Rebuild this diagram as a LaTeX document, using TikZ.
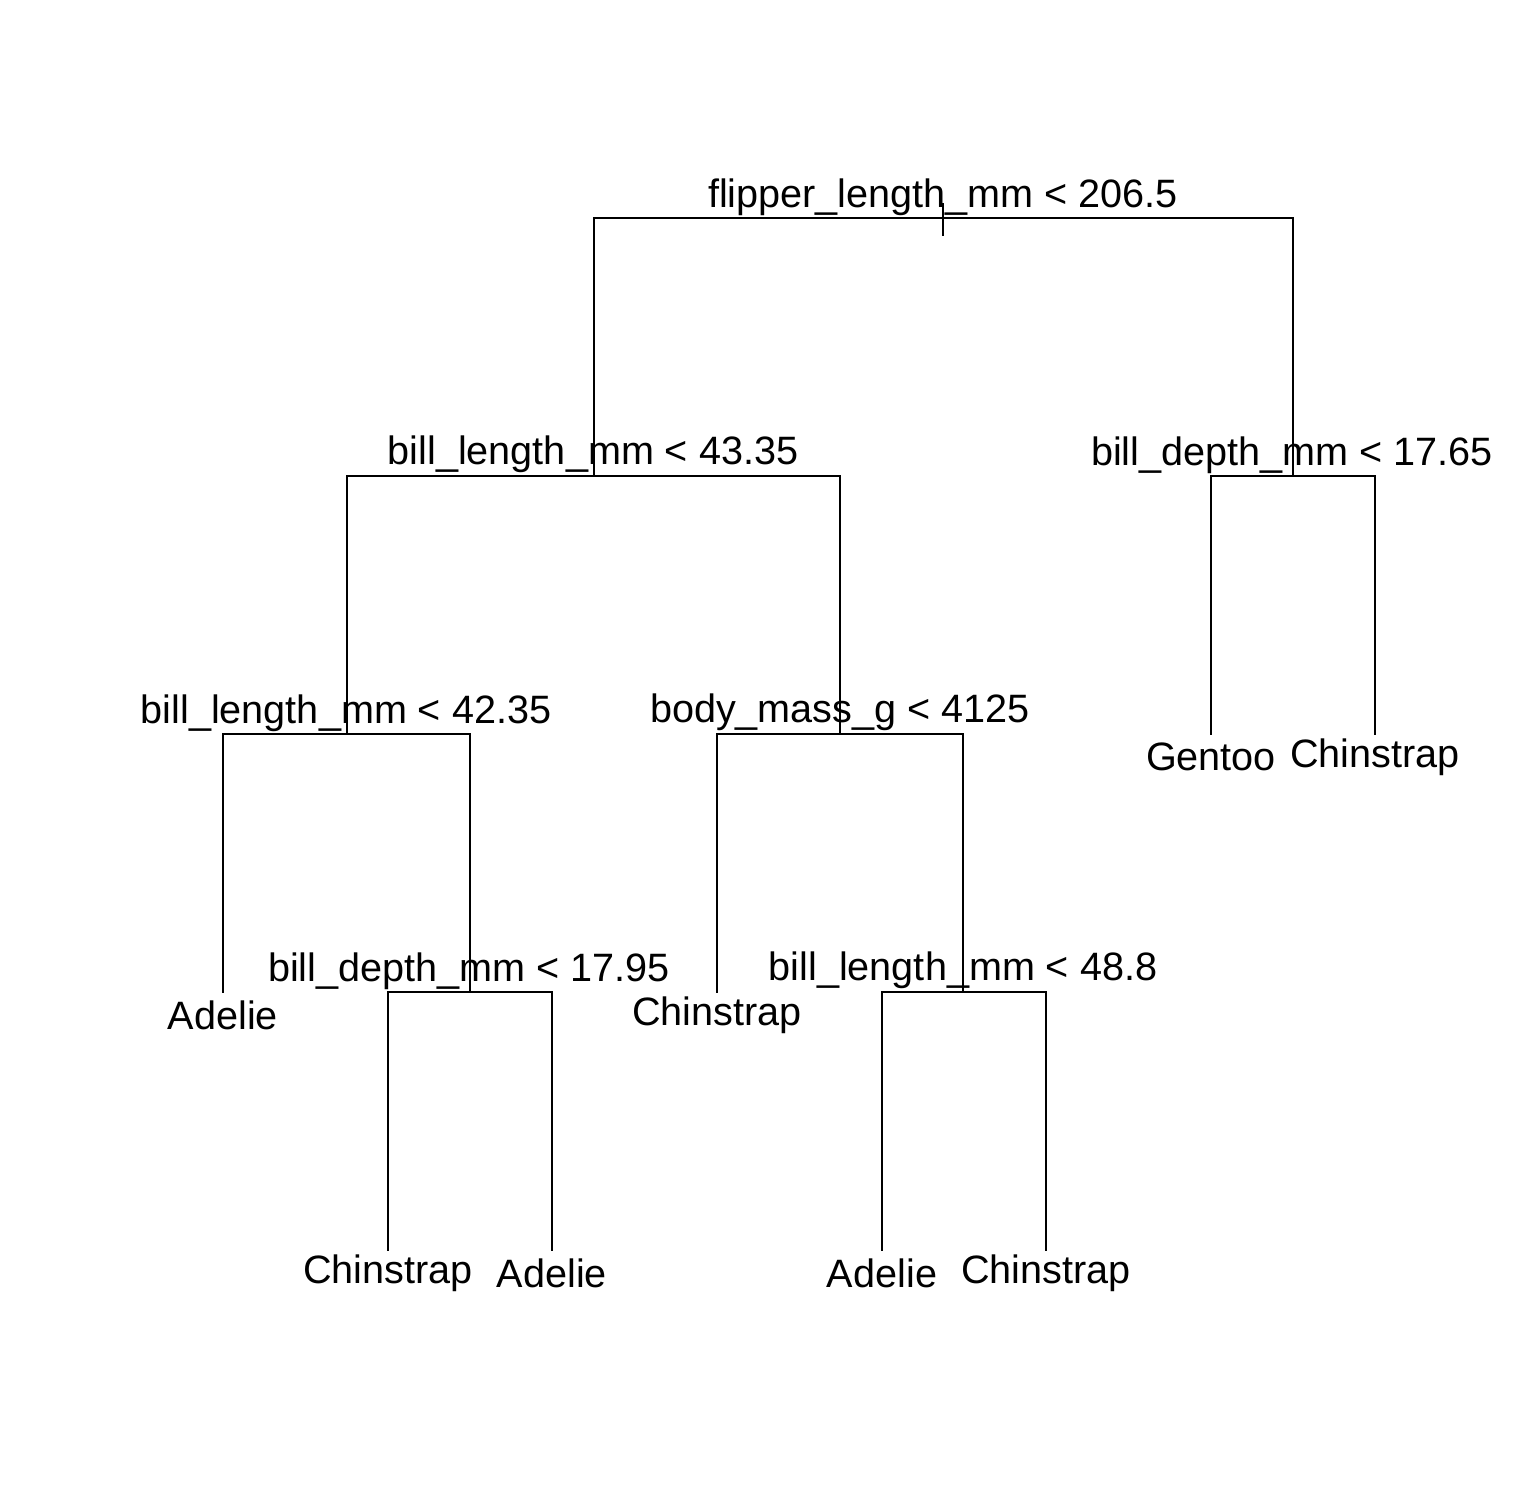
\documentclass[tikz,border=0pt]{standalone}
\usepackage{fontspec}
\setmainfont{Liberation Sans}
\begin{document}
\begin{tikzpicture}[x=1pt,y=-1pt,
  edge/.style={draw=black,line width=2pt,line cap=rect},
  split/.style={font=\fontsize{39.6}{47}\selectfont,anchor=base,inner sep=0pt},
  leaf/.style={font=\fontsize{39.6}{47}\selectfont,anchor=center,inner sep=0pt}]
\useasboundingbox[fill=white] (0,0) rectangle (1512,1512);
% tree node positions
\coordinate (n1) at (943,218);
\coordinate (n2) at (594,476);
\coordinate (n3) at (1293,476);
\coordinate (n4) at (347,734);
\coordinate (n5) at (840,734);
\coordinate (n6) at (1211,734);
\coordinate (n7) at (1375,734);
\coordinate (n8) at (223,992);
\coordinate (n9) at (470,992);
\coordinate (n10) at (717,992);
\coordinate (n11) at (963,992);
\coordinate (n12) at (388,1250);
\coordinate (n13) at (552,1250);
\coordinate (n14) at (882,1250);
\coordinate (n15) at (1046,1250);
\coordinate (rt) at (943,204);
\coordinate (rb) at (943,235);
% branches
\draw[edge] (rt) -- (rb);
\draw[edge] (n2) |- (n1);
\draw[edge] (n3) |- (n1);
\draw[edge] (n4) |- (n2);
\draw[edge] (n5) |- (n2);
\draw[edge] (n6) |- (n3);
\draw[edge] (n7) |- (n3);
\draw[edge] (n8) |- (n4);
\draw[edge] (n9) |- (n4);
\draw[edge] (n10) |- (n5);
\draw[edge] (n11) |- (n5);
\draw[edge] (n12) |- (n9);
\draw[edge] (n13) |- (n9);
\draw[edge] (n14) |- (n11);
\draw[edge] (n15) |- (n11);
% split labels
\node[split] (s1) at (943,207) {flipper\_length\_mm < 206.5};
\node[split] (s2) at (593,464) {bill\_length\_mm < 43.35};
\node[split] (s3) at (1292,465) {bill\_depth\_mm < 17.65};
\node[split] (s4) at (346,723) {bill\_length\_mm < 42.35};
\node[split] (s5) at (840,722) {body\_mass\_g < 4125};
\node[split] (s9) at (469,981) {bill\_depth\_mm < 17.95};
\node[split] (s11) at (963,980) {bill\_length\_mm < 48.8};
% leaf labels
\node[leaf] (l6) at (1211,757) {Gentoo};
\node[leaf] (l7) at (1375,757) {Chinstrap};
\node[leaf] (l8) at (223,1015) {Adelie};
\node[leaf] (l10) at (717,1015) {Chinstrap};
\node[leaf] (l12) at (388,1273) {Chinstrap};
\node[leaf] (l13) at (552,1273) {Adelie};
\node[leaf] (l14) at (882,1273) {Adelie};
\node[leaf] (l15) at (1046,1273) {Chinstrap};
\end{tikzpicture}
\end{document}
